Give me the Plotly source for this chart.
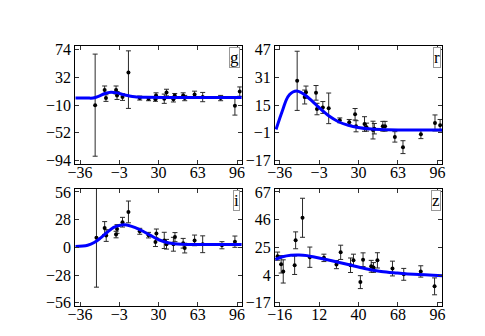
import plotly.graph_objects as go

# ---------------- data ----------------
# panel g
g_x = [-23.3, -15.3, -14.2, -5.7, -4.9, -0.3, 4.7, 14.2, 21.6, 27.4, 27.9, 34.8, 36.7, 42.5, 43.6, 50.7, 52.0, 60.3, 67.1, 82.2, 94.2, 98.3]
g_y = [-10.2, 12.7, 0.5, 12.7, 4.4, 2.0, 39.1, 0.5, -0.5, -1.4, 4.4, -0.5, 8.8, -1.4, 4.4, 4.4, 0.5, 5.9, 2.0, 0.5, -11.2, 10.3]
g_e = [77, 6, 5, 6, 6, 5, 32.6, 3, 3, 3, 4, 7, 5, 4, 3, 4, 4, 5, 7, 4, 14, 7]
g_em = [77, 6, 5, 6, 6, 5, 54.2, 3, 3, 3, 4, 7, 5, 4, 3, 4, 4, 5, 7, 4, 14, 7]
g_cx = [-40, -30, -25, -20, -15, -10, -5, 0, 5, 10, 20, 40, 70, 100]
g_cy = [0.5, 0.5, 0.6, 3.4, 7.4, 9.3, 8.3, 5.9, 3.9, 2.5, 1.7, 1.5, 1.5, 1.5]

# panel r
r_x = [-21.4, -15.1, -14.0, -5.6, -4.8, 0.1, 5.0, 14.3, 22.2, 27.1, 27.9, 35.0, 36.7, 42.1, 43.2, 50.3, 52.2, 60.4, 67.2, 82.2, 94.0, 98.3]
r_y = [28.9, 19.6, 22.4, 22.0, 12.7, 13.6, 13.1, 6.2, 5.1, 9.7, 2.8, 4.1, 2.3, 0.6, 1.4, 2.8, 2.8, -3.3, -9.2, -1.8, 4.7, 3.4]
r_e = [17, 4, 3.5, 4.2, 3.3, 3.4, 8.8, 1.4, 1.6, 3.3, 3.2, 4.2, 2.3, 5.1, 3.0, 2.8, 2.8, 3.0, 3.7, 2.5, 4.6, 3.3]
r_cx = [-39.1, -35.9, -33.1, -30.4, -27.7, -25.0, -21.7, -18.1, -14.0, -8.6, -3.2, 5.0, 13.2, 21.4, 29.6, 40.5, 54.1, 76.0, 100.0]
r_cy = [1.0, 7.5, 13.0, 18.1, 21.0, 22.5, 23.1, 22.2, 20.3, 17.1, 13.6, 8.8, 5.4, 3.4, 2.1, 1.2, 0.8, 0.6, 0.6]

# panel i
i_x = [-22.2, -15.3, -14.0, -5.7, -4.9, -0.3, 4.7, 14.2, 21.6, 27.4, 28.2, 34.8, 36.7, 42.5, 43.8, 50.7, 52.0, 60.3, 67.1, 83.3, 94.2]
i_y = [9.7, 19.5, 11.9, 12.9, 18.5, 25.4, 35.8, 16.2, 12.3, 5.4, 13.9, 7.0, 3.1, 3.1, 10.3, 4.1, -0.8, 7.0, 3.1, 2.1, 5.7]
i_e = [50, 6.5, 5.9, 3.3, 4.4, 4.9, 11, 3.0, 2.8, 4.6, 4.6, 8.2, 4.9, 7.0, 4.6, 4.9, 4.9, 5.4, 8.5, 3.6, 5.7]
i_cx = [-40, -29.6, -24.1, -18.6, -13.1, -7.7, -2.2, 1.9, 7.4, 14.2, 22.5, 30.7, 38.9, 49.8, 63.5, 100]
i_cy = [0.8, 2.1, 4.8, 9.6, 15.2, 20.1, 22.4, 22.7, 21.1, 17.8, 12.6, 7.4, 4.4, 3.1, 2.8, 2.8]

# panel z
z_x = [-17.5, -15.0, -13.5, -5.4, -4.7, 0.2, 5.4, 15.4, 24.3, 27.3, 34.3, 36.4, 41.3, 43.2, 49.0, 50.6, 53.4, 64.1, 72.1, 84.2, 94.0]
z_y = [18.3, 12.1, 6.7, 11.4, 30.3, 47.4, 17.5, 17.0, 11.9, 21.2, 11.4, 15.1, -1.4, 15.6, 10.6, 9.7, 15.1, 8.9, 4.5, 6.7, -4.6]
z_e = [3.1, 6.6, 8.8, 7.0, 6.4, 14.8, 7.7, 2.8, 3.1, 5.4, 5.5, 4.7, 4.9, 5.2, 4.5, 3.7, 5.8, 5.6, 4.5, 4.3, 6.4]
z_cx = [-19.1, -14.0, -8.2, -2.3, 3.5, 9.3, 21.0, 32.6, 44.3, 56.0, 67.6, 79.3, 99.8]
z_cy = [15.8, 17.8, 19.0, 19.2, 18.7, 17.5, 14.8, 11.9, 8.9, 6.7, 5.5, 4.5, 3.5]

# tick values
x_ticks_a = [-36, -3, 30, 63, 96]
x_ticks_z = [-16, 12, 40, 68, 96]
g_yticks = [-94, -52, -10, 32, 74]
r_yticks = [-17, -1, 15, 31, 47]
i_yticks = [-56, -28, 0, 28, 56]
z_yticks = [-17, 4, 25, 46, 67]
labels = ["g", "r", "i", "z"]

# ---------------- figure ----------------
W, H = 485, 336
FONT = "Liberation Serif"

def fmt(v):
    return ("\u2212" + str(abs(v))) if v < 0 else str(v)

def rng(t):
    span = t[-1] - t[0]
    return [t[0] - 0.03 * span, t[-1] + 0.03 * span]

cols = [[60.7, 231.0], [265.0, 436.0]]
rows = [[34.0, 155.7], [181.0, 302.0]]

panels = [
    (g_x, g_y, g_e, g_em, g_cx, g_cy, x_ticks_a, g_yticks, 0, 0),
    (r_x, r_y, r_e, r_e, r_cx, r_cy, x_ticks_a, r_yticks, 1, 0),
    (i_x, i_y, i_e, i_e, i_cx, i_cy, x_ticks_a, i_yticks, 0, 1),
    (z_x, z_y, z_e, z_e, z_cx, z_cy, x_ticks_z, z_yticks, 1, 1),
]

fig = go.Figure()
layout = dict(
    width=W, height=H, margin=dict(l=0, r=0, t=0, b=0),
    paper_bgcolor="white", plot_bgcolor="white", showlegend=False,
    font=dict(family=FONT, size=16, color="black"),
)
annotations = []
for k, (px, py, pe, pem, cx, cy, xt, yt, c, r) in enumerate(panels):
    n = "" if k == 0 else str(k + 1)
    xa, ya = "x" + n, "y" + n
    fig.add_trace(go.Scatter(
        x=px, y=py, mode="markers", xaxis=xa, yaxis=ya,
        marker=dict(color="black", size=4),
        error_y=dict(type="data", symmetric=False, array=pe, arrayminus=pem,
                     color="#2a2a2a", thickness=1, width=2.5),
    ))
    fig.add_trace(go.Scatter(
        x=cx, y=cy, mode="lines", xaxis=xa, yaxis=ya,
        line=dict(color="#0000ff", width=3, shape="spline", smoothing=1.0),
    ))
    common = dict(
        showgrid=False, zeroline=False, showline=True, linecolor="black", linewidth=1.2,
        mirror="ticks", ticks="inside", ticklen=4, tickwidth=1, tickcolor="#333",
        tickfont=dict(family=FONT, size=16, color="black"),
    )
    layout["xaxis" + n] = dict(
        common, domain=[cols[c][0] / W, cols[c][1] / W], anchor=ya,
        range=rng(xt), tickmode="array", tickvals=xt, ticktext=[fmt(v) for v in xt],
        ticklabelstandoff=-6,
    )
    layout["yaxis" + n] = dict(
        common, domain=[1 - rows[r][1] / H, 1 - rows[r][0] / H], anchor=xa,
        range=rng(yt), tickmode="array", tickvals=yt, ticktext=[fmt(v) for v in yt],
    )
    annotations.append(dict(
        text=labels[k], xref=xa + " domain", yref=ya + " domain", x=1, y=1,
        xanchor="right", yanchor="top", xshift=-1.5, yshift=-1.5, showarrow=False,
        font=dict(family=FONT, size=17, color="black"),
        bordercolor="#999", borderwidth=1, borderpad=0, bgcolor="white",
    ))
layout["annotations"] = annotations
fig.update_layout(**layout)
fig.write_html("out.html")
